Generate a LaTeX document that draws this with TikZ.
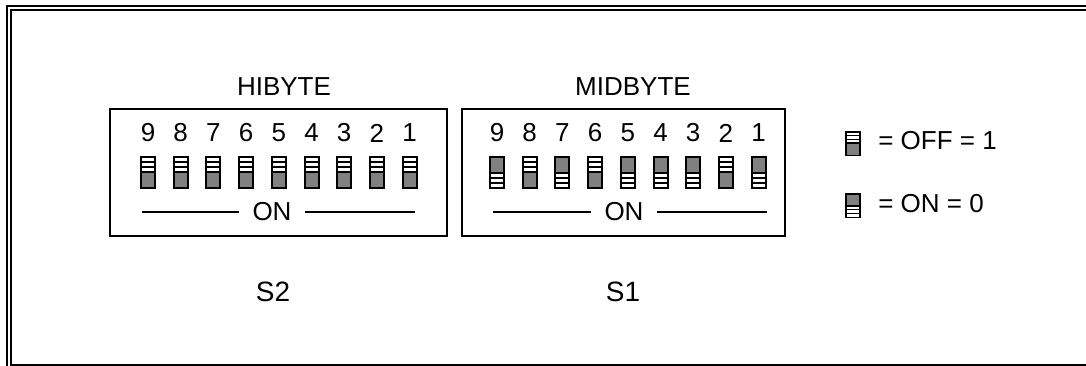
\documentclass[tikz,border=0pt]{standalone}
\usepackage{fontspec}
\setmainfont{Liberation Sans}
\definecolor{knobgray}{RGB}{128,128,128}
\tikzset{
  frameline/.style={line width=1.5pt},
  boxline/.style={line width=1.5pt},
  onrule/.style={line width=1.5pt},
  lbl/.style={font=\fontsize{19.5}{23}\selectfont, inner sep=0pt},
  swname/.style={font=\fontsize{21}{25}\selectfont, inner sep=0pt},
  onlbl/.style={font=\fontsize{19.5}{23}\selectfont, inner ysep=0pt, inner xsep=9.75pt},
  pics/swoff/.style={code={
    \fill[black] (-8,0) rectangle (8,33);
    \fill[knobgray] (-6,17) rectangle (6,31);
    \foreach \s in {2,7,12} \fill[white] (-6,\s) rectangle (6,\s+3);
  }},
  pics/swon/.style={code={
    \fill[black] (-8,0) rectangle (8,33);
    \fill[knobgray] (-6,2) rectangle (6,16);
    \foreach \s in {18,23,28} \fill[white] (-6,\s) rectangle (6,\s+3);
  }},
}
\begin{document}
\begin{tikzpicture}[x=0.75pt,y=-0.75pt]
  \useasboundingbox (0,0) rectangle (1086,366);
  % frame
  \draw[frameline] (1086,6) -- (7,6) -- (7,366);
  \draw[frameline] (1086,10) -- (11,10) -- (11,365) -- (1086,365);

  % S2, HIBYTE
  \node[lbl] (hibyte) at (284,87) {HIBYTE};
  \draw[boxline] (110,109) rectangle (447,236);
  \foreach \d [count=\i from 0] in {9,8,7,6,5,4,3,2,1} {
    \node[lbl] (hi\d) at (148+\i*32.7,133) {\d};
    \pic (hisw\d) at (148+\i*32.7,156) {swoff};
  }
  \node[onlbl] (on2) at (272,212) {ON};
  \coordinate (on2a) at (142,212);
  \coordinate (on2b) at (415,212);
  \draw[onrule] (on2a) -- (on2.west);
  \draw[onrule] (on2.east) -- (on2b);
  \node[swname] (s2) at (273,292) {S2};

  % S1, MIDBYTE
  \node[lbl] (midbyte) at (633,87) {MIDBYTE};
  \draw[boxline] (462,109) rectangle (785,236);
  \foreach \d/\st [count=\i from 0] in {9/swon,8/swoff,7/swon,6/swoff,5/swon,4/swon,3/swon,2/swoff,1/swon} {
    \node[lbl] (mid\d) at (497+\i*32.7,133) {\d};
    \pic (midsw\d) at (497+\i*32.7,156) {\st};
  }
  \node[onlbl] (on1) at (624,212) {ON};
  \coordinate (on1a) at (493,212);
  \coordinate (on1b) at (767,212);
  \draw[onrule] (on1a) -- (on1.west);
  \draw[onrule] (on1.east) -- (on1b);
  \node[swname] (s1) at (623,292) {S1};

  % legend
  \pic[yscale=0.76] (legoff) at (853,131) {swoff};
  \node[lbl, anchor=west] (offtxt) at (878,141) {= OFF = 1};
  \pic[yscale=0.76] (legon) at (853,193) {swon};
  \node[lbl, anchor=west] (ontxt) at (878,204) {= ON = 0};
\end{tikzpicture}
\end{document}
